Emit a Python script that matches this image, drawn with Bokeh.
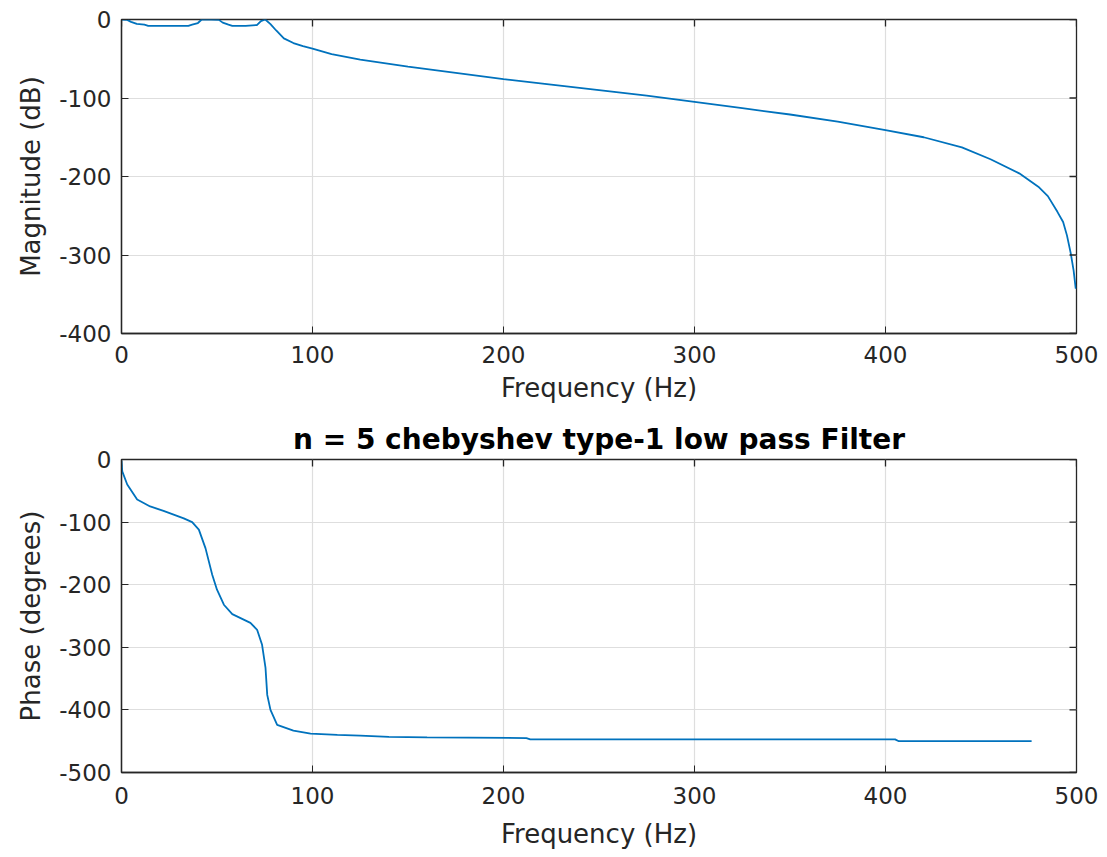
import math
from bokeh.plotting import figure
from bokeh.layouts import column
from bokeh.models import Range1d, FixedTicker
from bokeh.embed import file_html
from bokeh.resources import INLINE

# ---- data ----
mag_freq = [0, 3, 5, 8, 12, 14, 25, 35, 37, 40, 42, 47, 51, 53, 56, 58, 65, 71, 73, 75.3,
            78, 81, 85, 90, 95, 100, 110, 125, 150, 175, 200, 225, 250, 275, 300, 325,
            350, 375, 400, 420, 440, 455, 470, 480, 485, 490, 493, 495, 497, 498.5, 499.6]
mag_db = [0, -0.5, -3, -5.5, -6.5, -8, -8, -8, -6.5, -4.5, 0, 0, -0.5, -4, -6.5, -8, -8, -7, -2, 0,
          -6, -14, -24, -30, -34, -37, -44, -51, -60, -68, -76, -83, -90, -97, -105, -113,
          -121, -130, -141, -150, -163, -178, -196, -213, -225, -245, -258, -275, -298, -320, -343]

ph_freq = [0, 0.4, 3, 8.2, 15, 22, 32.6, 37, 40.5, 44, 47.5, 50, 53.6, 58, 67.5, 71, 73.6,
           75.4, 76.3, 78, 81.5, 90, 99, 113, 125, 140, 160, 212, 214, 300, 405, 407, 476.5]
ph_deg = [-2, -19, -40, -64, -75, -82, -94, -100, -112, -142, -184, -208, -232, -247, -261, -272, -296,
          -333, -376, -400, -424, -433, -438, -440, -441, -443, -444, -445, -447, -447, -447, -450, -450]

x_ticks = [0, 100, 200, 300, 400, 500]
mag_ticks = [-400, -300, -200, -100, 0]
ph_ticks = [-500, -400, -300, -200, -100, 0]

title_text = "n = 5 chebyshev type-1 low pass Filter"

FONT = "DejaVu Sans"
AX = "#262626"
GRID = "#dedede"
LINE = "#0072BD"


def style(p, xt, yt, xr, yr, xlabel, ylabel, xstand, xlstand):
    p.xaxis.ticker = FixedTicker(ticks=xt)
    p.yaxis.ticker = FixedTicker(ticks=yt)
    p.xaxis.major_label_overrides = {t: str(t) for t in xt}
    p.yaxis.major_label_overrides = {t: str(t) for t in yt}
    for ax in (p.xaxis[0], p.yaxis[0]):
        ax.major_tick_in = 7
        ax.major_tick_out = 0
        ax.minor_tick_line_color = None
        ax.axis_line_color = AX
        ax.major_tick_line_color = AX
        ax.axis_line_width = 1.3
        ax.major_label_text_font = FONT
        ax.major_label_text_font_size = "23px"
        ax.major_label_text_color = AX
        ax.axis_label_text_font = FONT
        ax.axis_label_text_font_size = "26px"
        ax.axis_label_text_font_style = "normal"
        ax.axis_label_text_color = AX
    p.xaxis[0].axis_label = xlabel
    p.yaxis[0].axis_label = ylabel
    p.xaxis[0].major_label_standoff = xstand
    p.xaxis[0].axis_label_standoff = xlstand
    p.yaxis[0].major_label_standoff = 10
    p.yaxis[0].axis_label_standoff = 10
    # box ticks on top and right edges (inward, clipped by the frame)
    p.scatter(xt, [yr[1]] * len(xt), marker="dash", angle=math.pi / 2, size=14,
              line_color=AX, line_width=1.3)
    p.scatter([xr[1]] * len(yt), yt, marker="dash", size=14,
              line_color=AX, line_width=1.3)
    p.xgrid.ticker = FixedTicker(ticks=xt)
    p.ygrid.ticker = FixedTicker(ticks=yt)
    p.xgrid.grid_line_color = GRID
    p.ygrid.grid_line_color = GRID
    p.xgrid.grid_line_width = 1.2
    p.ygrid.grid_line_width = 1.2
    p.outline_line_color = AX
    p.outline_line_width = 1.3
    p.background_fill_color = "white"
    p.border_fill_color = "white"


xr = (0, 500)
yr1 = (-400, 0)
yr2 = (-500, 0)

p1 = figure(width=1107, height=416, output_backend="svg", toolbar_location=None,
            x_range=Range1d(*xr), y_range=Range1d(*yr1),
            min_border_left=121, min_border_right=31, min_border_top=19, min_border_bottom=83)
p1.line(mag_freq, mag_db, line_color=LINE, line_width=1.8)
style(p1, x_ticks, mag_ticks, xr, yr1, "Frequency (Hz)", "Magnitude (dB)", 12, 7)

p2 = figure(width=1107, height=441, output_backend="svg", toolbar_location=None,
            x_range=Range1d(*xr), y_range=Range1d(*yr2),
            min_border_left=121, min_border_right=31, min_border_top=43, min_border_bottom=85)
p2.line(ph_freq, ph_deg, line_color=LINE, line_width=1.8)
style(p2, x_ticks, ph_ticks, xr, yr2, "Frequency (Hz)", "Phase (degrees)", 14, 12)
p2.title.text = title_text
p2.title.align = "center"
p2.title.text_font = FONT
p2.title.text_font_size = "28px"
p2.title.text_font_style = "bold"
p2.title.text_color = "black"
p2.title.standoff = 8

layout = column(p1, p2, spacing=0)
open("out.html", "w").write(file_html(layout, INLINE))
